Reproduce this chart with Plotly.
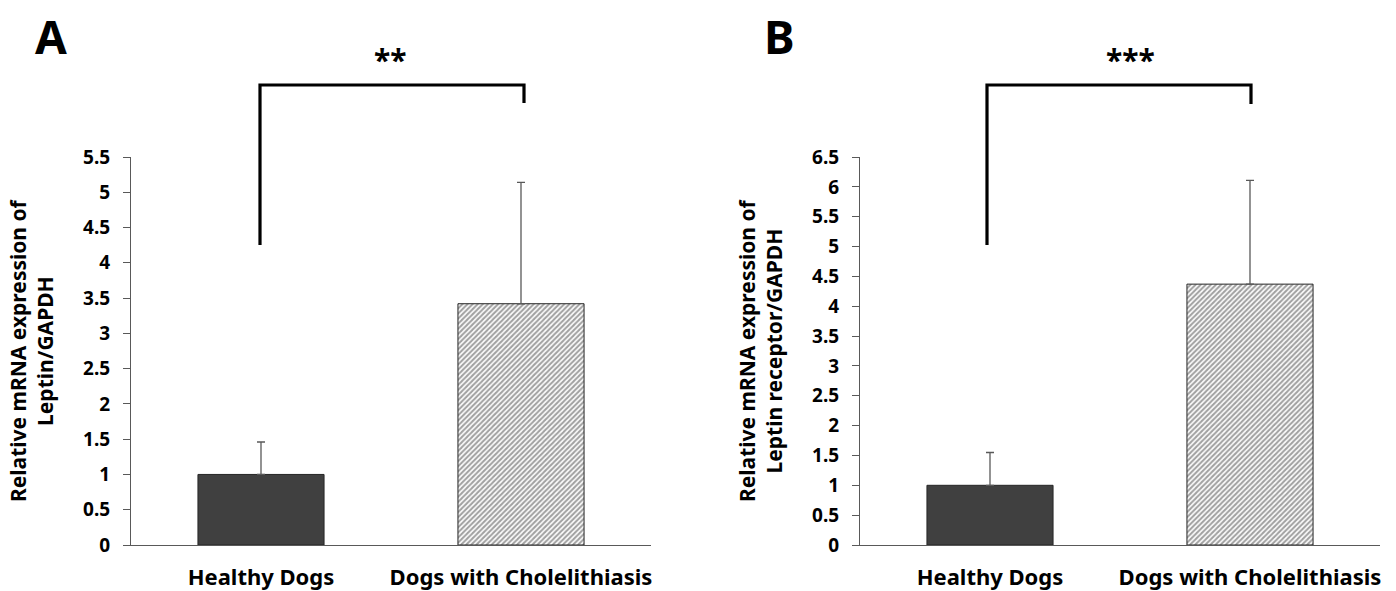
import plotly.graph_objects as go

# Group labels and measured values
groups = ["Healthy Dogs", "Dogs with Cholelithiasis"]

leptin_mean = [1.0, 3.42]
leptin_sd = [0.46, 1.72]

receptor_mean = [1.0, 4.37]
receptor_sd = [0.55, 1.74]

panel_letters = ["A", "B"]
significance = ["**", "***"]
y_titles = ["Relative mRNA expression of<br>Leptin/GAPDH",
            "Relative mRNA expression of<br>Leptin receptor/GAPDH"]
y_ranges = [[0, 5.5], [0, 6.5]]

W, H = 1396, 591
FONT = "Noto Sans"
AXIS_COLOR = "#595959"

fig = go.Figure()

bar_fill = ["#404040", "white"]
bar_pattern = ["", "/"]

for i, (means, sds) in enumerate([(leptin_mean, leptin_sd), (receptor_mean, receptor_sd)]):
    xa = "x" if i == 0 else "x2"
    ya = "y" if i == 0 else "y2"
    fig.add_trace(go.Bar(
        x=groups, y=means,
        xaxis=xa, yaxis=ya,
        width=0.485,
        marker=dict(
            color=bar_fill,
            line=dict(color="#262626", width=1),
            pattern=dict(shape=bar_pattern, fgcolor="#1e1e1e", bgcolor="white",
                         size=3.6, solidity=0.55, fillmode="overlay"),
        ),
        error_y=dict(type="data", array=sds, arrayminus=[0, 0], symmetric=False,
                     color=AXIS_COLOR, thickness=1.3, width=4),
        showlegend=False,
        hoverinfo="skip",
    ))

# Plot-area placement in pixels
x_domains_px = [(131, 651), (860, 1380)]
y_bottom_px, y_top_px = 545, 157

def px_x(p):
    return p / W

def px_y(p):
    return (H - p) / H

ydom = [px_y(y_bottom_px), px_y(y_top_px)]

axis_common = dict(showline=True, linecolor=AXIS_COLOR, linewidth=1.2,
                   showgrid=False, zeroline=False, automargin=False)
tickfont = dict(family=FONT, size=19, color="black", weight="bold")
catfont = dict(family=FONT, size=22, color="black", weight="bold")

layout = dict(
    width=W, height=H,
    margin=dict(l=0, r=0, t=0, b=0, autoexpand=False),
    paper_bgcolor="white", plot_bgcolor="white",
    bargap=0.515,
    font=dict(family=FONT, color="black"),
)
for i in range(2):
    sx = "" if i == 0 else "2"
    d = x_domains_px[i]
    layout["xaxis" + sx] = dict(
        domain=[px_x(d[0]), px_x(d[1])], anchor="y" + sx,
        ticks="", tickfont=catfont, ticklabelstandoff=12,
        range=[-0.5, 1.5], **axis_common)
    layout["yaxis" + sx] = dict(
        domain=ydom, anchor="x" + sx, range=y_ranges[i],
        dtick=0.5, ticks="outside", ticklen=7, tickcolor=AXIS_COLOR,
        tickfont=tickfont, ticklabelstandoff=9, **axis_common)

fig.update_layout(**layout)

annotations = []
shapes = []
letter_x = [51, 779]
title_x = [32, 761]
star_x = [390, 1130]
bracket_left_px = [(260, 245), (987, 245)]
bracket_right_px = [(524, 103), (1251, 104)]
bracket_top_px = 85

for i in range(2):
    # Panel letter
    annotations.append(dict(text=panel_letters[i], xref="paper", yref="paper",
                            x=px_x(letter_x[i]), y=px_y(36), showarrow=False,
                            xanchor="center", yanchor="middle",
                            font=dict(family=FONT, size=46, weight="bold")))
    # Y-axis title
    annotations.append(dict(text=y_titles[i], xref="paper", yref="paper",
                            x=px_x(title_x[i]), y=px_y(350), textangle=-90,
                            showarrow=False, align="center",
                            xanchor="center", yanchor="middle",
                            font=dict(family=FONT, size=21, weight="bold")))
    # Significance stars
    annotations.append(dict(text=significance[i], xref="paper", yref="paper",
                            x=px_x(star_x[i]), y=px_y(60), showarrow=False,
                            xanchor="center", yanchor="middle",
                            font=dict(family=FONT, size=30, weight="bold")))
    # Bracket joining the two groups
    lx, ly = bracket_left_px[i]
    rx, ry = bracket_right_px[i]
    shapes.append(dict(type="path", xref="paper", yref="paper",
                       path=(f"M {px_x(lx)},{px_y(ly)} L {px_x(lx)},{px_y(bracket_top_px)} "
                             f"L {px_x(rx)},{px_y(bracket_top_px)} L {px_x(rx)},{px_y(ry)}"),
                       line=dict(color="black", width=3.2)))

fig.update_layout(annotations=annotations, shapes=shapes)

fig.write_html("out.html")
